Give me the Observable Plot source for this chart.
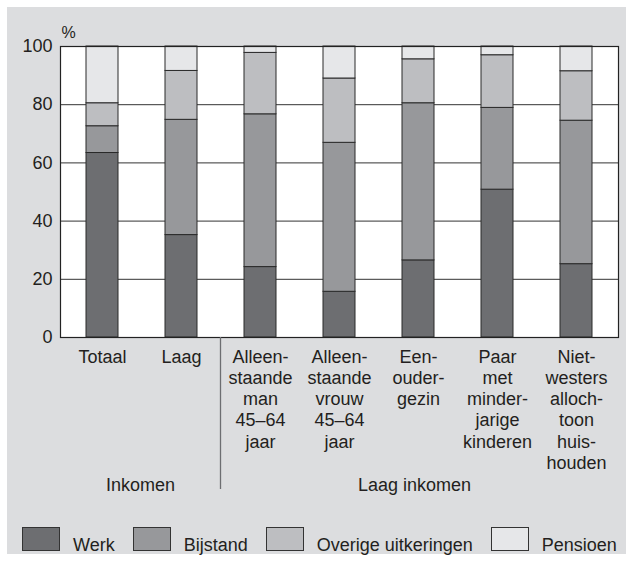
<!DOCTYPE html>
<html><head><meta charset="utf-8">
<script src="https://cdn.jsdelivr.net/npm/d3@7"></script>
<script src="https://cdn.jsdelivr.net/npm/@observablehq/plot@0.6"></script>
<style>
html,body{margin:0;padding:0;background:#fff;width:626px;height:561px;overflow:hidden;font-family:"Liberation Sans",Arial,sans-serif;}
#bg{position:absolute;left:7px;top:7px;width:619px;height:547px;background:#dcdddf;}
#chart{position:absolute;left:0;top:0;}
#legend{position:absolute;left:22px;top:527px;display:flex;align-items:flex-end;font-size:18px;color:#231f20;}
.sw{width:38px;height:24px;box-sizing:border-box;border:1px solid #333;margin-right:13px;}
.lb{line-height:18px;margin-right:18px;margin-bottom:-3px;white-space:nowrap;}
</style></head><body>
<div id="bg"></div><div id="chart"></div><div id="legend"></div>
<script>
const categories = [
  "Totaal",
  "Laag",
  "Alleen-\nstaande\nman\n45–64\njaar",
  "Alleen-\nstaande\nvrouw\n45–64\njaar",
  "Een-\nouder-\ngezin",
  "Paar\nmet\nminder-\njarige\nkinderen",
  "Niet-\nwesters\nalloch-\ntoon\nhuis-\nhouden"
];
const series = ["Werk", "Bijstand", "Overige uitkeringen", "Pensioen"];
const werk     = [63.4, 35.2, 24.2, 15.7, 26.5, 50.8, 25.2];
const bijstand = [ 9.2, 39.6, 52.5, 51.2, 54.0, 28.1, 49.3];
const overige  = [ 7.9, 16.8, 21.1, 22.1, 15.1, 18.1, 17.0];
const pensioen = [19.5,  8.4,  2.2, 11.0,  4.4,  3.0,  8.5];
const colors = ["#6d6e71", "#97989b", "#bdbec1", "#e6e7e9"];
const yTicks = [0, 20, 40, 60, 80, 100];
const gridTicks = [20, 40, 60, 80];
const groupLabels = ["Inkomen", "Laag inkomen"];
const yUnit = "%";

const values = [werk, bijstand, overige, pensioen];
const data = [];
categories.forEach((c, i) => {
  series.forEach((s, j) => data.push({cat: c, series: s, value: values[j][i]}));
});

const ink = "#231f20";
const chart = Plot.plot({
  width: 626,
  height: 500,
  marginLeft: 60,
  marginRight: 8,
  marginTop: 46,
  marginBottom: 163,
  style: {fontFamily: "'Liberation Sans', Arial, sans-serif", fontSize: "18px", background: "transparent", overflow: "visible", color: ink},
  x: {domain: categories, paddingInner: 0.6, paddingOuter: 0.3, label: null},
  y: {domain: [0, 100], label: null},
  color: {domain: series, range: colors},
  marks: [
    Plot.frame({fill: "white", stroke: null}),
    Plot.gridY(gridTicks, {stroke: "#333", strokeOpacity: 1, strokeWidth: 1}),
    Plot.barY(data, {x: "cat", y: "value", fill: "series", stroke: "#2a2a2a", strokeWidth: 1}),
    Plot.frame({stroke: "#222", strokeWidth: 1.2}),
    Plot.axisY({ticks: yTicks, tickSize: 0, tickPadding: 8, fontSize: 18, fill: ink, label: null}),
    Plot.axisX({tickSize: 0, tickPadding: 10, fontSize: 18, lineHeight: 1.18, fill: ink, label: null}),
    Plot.text([yUnit], {frameAnchor: "top-left", textAnchor: "start", lineAnchor: "bottom", dx: 1, dy: -9, fontSize: 16, fill: ink}),
    Plot.ruleX([categories[1]], {dx: 39, insetTop: 291, insetBottom: -152, stroke: "#6d6e71", strokeWidth: 1.3}),
    Plot.text([groupLabels[0]], {x: () => categories[0], frameAnchor: "bottom", lineAnchor: "bottom", dx: 38, dy: 153, fontSize: 18, fill: ink}),
    Plot.text([groupLabels[1]], {x: () => categories[4], frameAnchor: "bottom", lineAnchor: "bottom", dx: -4, dy: 153, fontSize: 18, fill: ink})
  ]
});
document.getElementById("chart").appendChild(chart);

const legend = document.getElementById("legend");
series.forEach((s, j) => {
  const sw = document.createElement("div");
  sw.className = "sw";
  sw.style.background = colors[j];
  const lb = document.createElement("div");
  lb.className = "lb";
  lb.textContent = s;
  legend.appendChild(sw);
  legend.appendChild(lb);
});
</script>
</body></html>
